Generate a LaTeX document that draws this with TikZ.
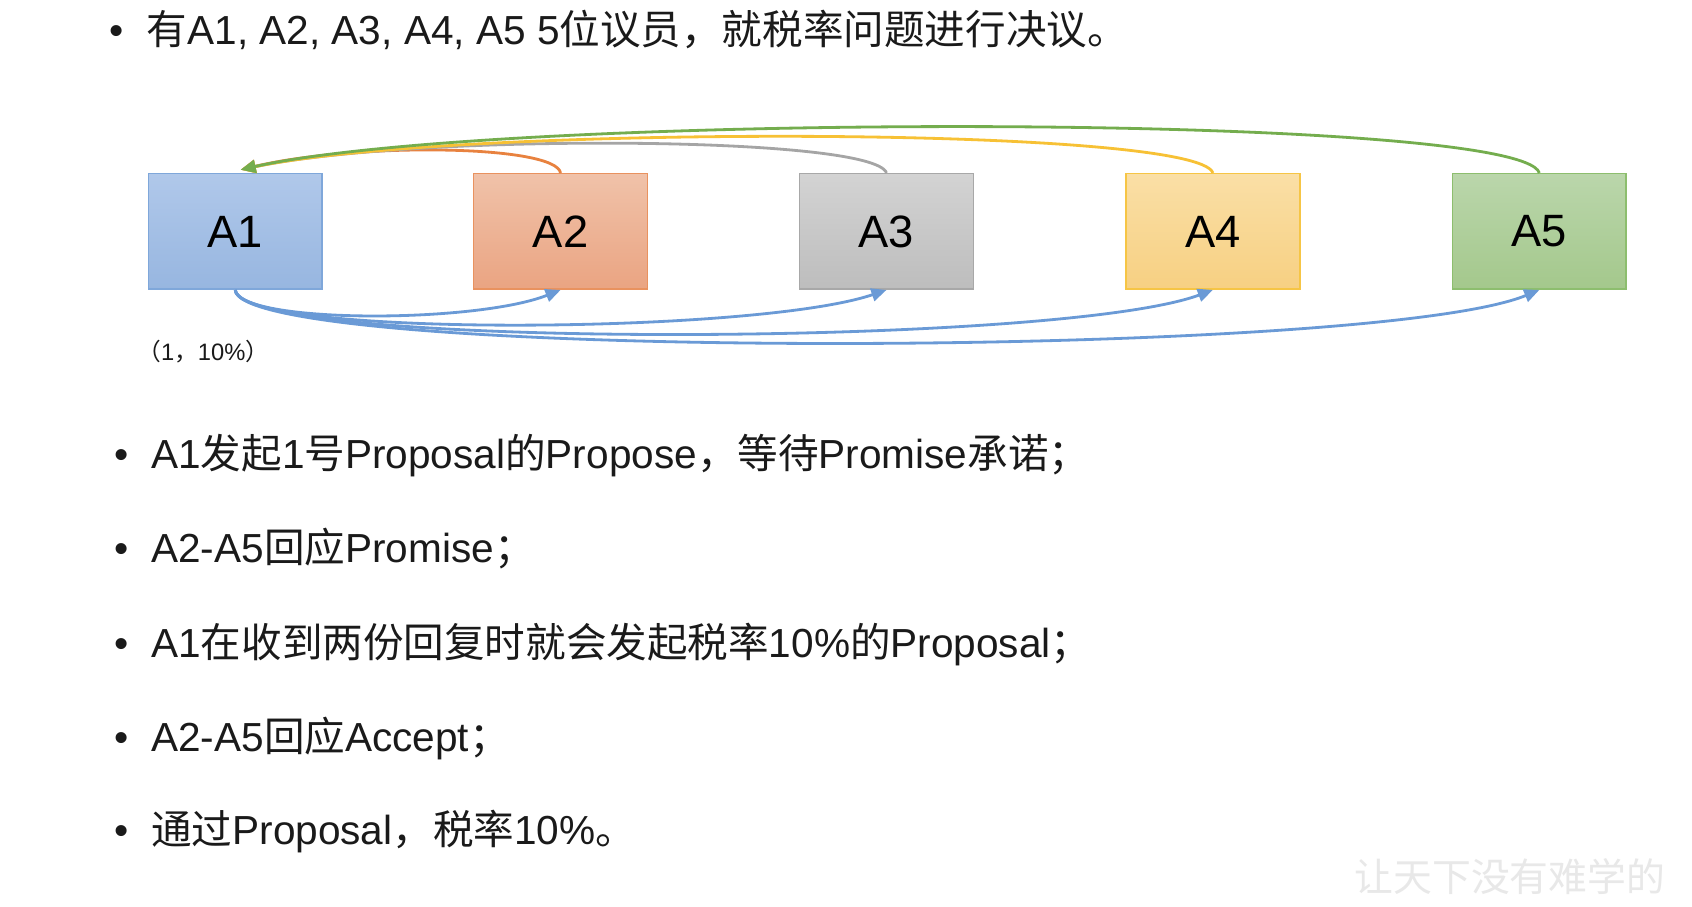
\documentclass[tikz,border=0pt]{standalone}
\usepackage{fontspec}
\setmainfont{Liberation Sans}
\newfontfamily\cjk{Noto Sans CJK SC}
\usetikzlibrary{arrows.meta}

\definecolor{txt}{HTML}{1A1A1A}
\definecolor{blueT}{HTML}{B0C8EA}\definecolor{blueB}{HTML}{97B6E0}\definecolor{blueD}{HTML}{7FA7DA}
\definecolor{orT}{HTML}{F0C2A9}\definecolor{orB}{HTML}{EAA482}\definecolor{orD}{HTML}{E9925F}
\definecolor{grT}{HTML}{D3D3D3}\definecolor{grB}{HTML}{BDBDBD}\definecolor{grD}{HTML}{A8A8A8}
\definecolor{yeT}{HTML}{FADFA6}\definecolor{yeB}{HTML}{F7D082}\definecolor{yeD}{HTML}{F6C545}
\definecolor{gnT}{HTML}{BAD6AB}\definecolor{gnB}{HTML}{A4C88C}\definecolor{gnD}{HTML}{8DBE6E}
\definecolor{lnOr}{HTML}{E8823F}\definecolor{lnGr}{HTML}{A5A5A5}
\definecolor{lnYe}{HTML}{F7C135}\definecolor{lnGn}{HTML}{74AD4E}
\definecolor{lnBl}{HTML}{6A9AD6}

\tikzset{
  x=1pt, y=-1pt,
  agent/.style={draw, line width=1.4pt, minimum width=161pt, minimum height=107pt,
    inner sep=0pt, text=black, font=\fontsize{42}{42}\selectfont},
  link/.style={line width=2.6pt, -{Triangle[length=14pt,width=12pt]}},
  line/.style={anchor=base west, inner sep=0pt, text=txt, font=\fontsize{37.6}{40}\selectfont},
  dot/.style={anchor=base, inner sep=0pt, text=txt, font=\fontsize{37.6}{40}\selectfont},
}

\begin{document}
\begin{tikzpicture}
\useasboundingbox[fill=white] (0,0) rectangle (1568,840);

% heading line
\node[dot] (b0) at (108,41) {•};
\node[line] (t0) at (136,41) {{\cjk 有}A1, A2, A3, A4, A5 5{\cjk 位议员，就税率问题进行决议。}};

% the five voters
\node[agent, top color=blueT, bottom color=blueB, draw=blueD] (A1) at (218,214.5) {A1};
\node[agent, top color=orT, bottom color=orB, draw=orD] (A2) at (519.5,214.5) {A2};
\node[agent, top color=grT, bottom color=grB, draw=grD] (A3) at (821.5,214.5) {A3};
\node[agent, top color=yeT, bottom color=yeB, draw=yeD] (A4) at (1124,214.5) {A4};
\node[agent, top color=gnT, bottom color=gnB, draw=gnD] (A5) at (1426.5,214.5) {A5};

% replies back to A1
\draw[link, lnOr] (A2.north) .. controls (515,134) and (330,132) .. ([xshift=5pt,yshift=3pt]A1.north);
\draw[link, lnGr] (A3.north) .. controls (810,125) and (380,124) .. ([xshift=5pt,yshift=3pt]A1.north);
\draw[link, lnYe] (A4.north) .. controls (1110,116) and (420,116) .. ([xshift=5pt,yshift=3pt]A1.north);
\draw[link, lnGn] (A5.north) .. controls (1410,104) and (460,104) .. ([xshift=5pt,yshift=3pt]A1.north);

% proposals from A1
\draw[link, lnBl] (A1.south) .. controls (222,300) and (440,300) .. (A2.south);
\draw[link, lnBl] (A1.south) .. controls (222,313) and (700,310) .. (A3.south);
\draw[link, lnBl] (A1.south) .. controls (222,324) and (980,322) .. (A4.south);
\draw[link, lnBl] (A1.south) .. controls (222,335) and (1270,333) .. (A5.south);

\node[anchor=base west, inner sep=0pt, text=txt, font=\fontsize{22}{22}\selectfont]
  (val) at (127,334) {{\cjk （}1{\cjk ，}10\%{\cjk ）}};

% steps
\node[dot] (b1) at (113,434) {•};
\node[line] (t1) at (140,434) {A1{\cjk 发起}1{\cjk 号}Proposal{\cjk 的}Propose{\cjk ，等待}Promise{\cjk 承诺；}};
\node[dot] (b2) at (113,521) {•};
\node[line] (t2) at (140,521) {A2-A5{\cjk 回应}Promise{\cjk ；}};
\node[dot] (b3) at (113,609) {•};
\node[line] (t3) at (140,609) {A1{\cjk 在收到两份回复时就会发起税率}10\%{\cjk 的}Proposal{\cjk ；}};
\node[dot] (b4) at (113,696) {•};
\node[line] (t4) at (140,696) {A2-A5{\cjk 回应}Accept{\cjk ；}};
\node[dot] (b5) at (113,783) {•};
\node[line] (t5) at (140,783) {{\cjk 通过}Proposal{\cjk ，税率}10\%{\cjk 。}};

% faint signature in the corner
\node[anchor=base west, inner sep=0pt, text=black!9, font=\cjk\fontsize{36}{36}\selectfont]
  (wm) at (1255,826) {让天下没有难学的};
\end{tikzpicture}
\end{document}
